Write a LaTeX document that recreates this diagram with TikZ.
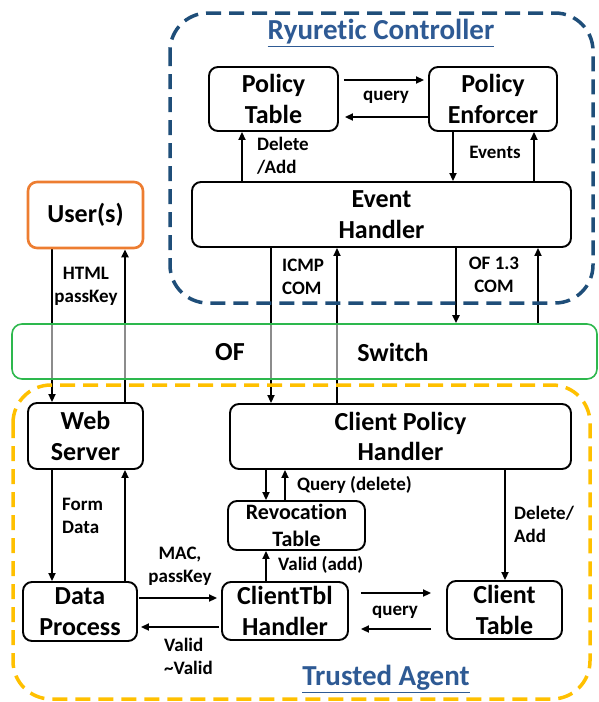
\documentclass[tikz,border=0pt]{standalone}
\usepackage{fontspec}
\setmainfont{Carlito}[Ligatures={NoCommon}]
\usetikzlibrary{arrows.meta,backgrounds}
\definecolor{ctrlblue}{HTML}{1F4E79}
\definecolor{titleblue}{HTML}{2E5A94}
\definecolor{useror}{HTML}{ED7D31}
\definecolor{swgreen}{HTML}{2DB84D}
\definecolor{agentgold}{HTML}{FFC000}

\begin{document}
\begin{tikzpicture}[x=1pt, y=-1pt]
	\tikzset{box/.style={draw, rounded corners=9pt, line width=1.9pt, align=center, inner sep=0pt,
			font=\fontsize{26}{30.5}\selectfont\bfseries},
		lbl/.style={inner sep=0pt, font=\fontsize{19}{23}\selectfont\bfseries},
		arr/.style={line width=1.9pt, -{Triangle[length=8pt,width=7pt]}},
		zone/.style={dash pattern=on 15pt off 8pt, line width=3.5pt, rounded corners=38pt},
		ttl/.style={titleblue, font=\fontsize{29}{32}\selectfont\bfseries}};
	\useasboundingbox (0,0) rectangle (598,702);

	% the two dashed zones
	\draw[zone, ctrlblue] (170,13) rectangle (593,303);
	\draw[zone, agentgold] (13,385) rectangle (590,699);
	\node[ttl] (ctrl) at (381,33) {\underline{Ryuretic Controller}};
	\node[ttl] (agent) at (386,679) {\underline{Trusted Agent}};

	% boxes
	\foreach \n/\x/\y/\w/\h/\c/\t in {pt/273.5/99/129/64/black/{Policy\\Table},
		pe/493/99/128/64/black/{Policy\\Enforcer}, eh/381.5/214.5/379/65/black/{Event\\Handler},
		web/85.5/436/115/66/black/{Web\\Server},
		dp/80/611.5/114/59/black/{Data\\Process}, cth/285/611/126/58/black/{ClientTbl\\Handler},
		cph/400.5/436.5/341/65/black/{Client Policy\\Handler}, ctab/504.5/610/115/58/black/{Client\\Table}}{
		\node[box, draw=\c, minimum width=\w pt, minimum height=\h pt] (\n) at (\x,\y) {\t};
	}
	\node[box, draw=useror, line width=2.6pt, minimum width=115pt, minimum height=66pt] (user) at (85.5,215) {User(s)};
	\node[box, font=\fontsize{22}{27}\selectfont\bfseries, minimum width=137pt, minimum height=49pt] (rev) at (296.5,525.5) {Revocation\\Table};

	% switch
	\node[draw=swgreen, line width=1.6pt, rounded corners=10pt, fill=white, fill opacity=0.55,
		minimum width=585pt, minimum height=55pt] (sw) at (304.5,351.5) {};
	\node[font=\fontsize{26}{30}\selectfont\bfseries] (swof) at (230,352) {OF};
	\node[font=\fontsize{26}{30}\selectfont\bfseries] (swname) at (393,352) {Switch};

	% connectors
	\begin{scope}[on background layer]
		\foreach \x/\a/\b in {242/eh.north/pt.south, 453/pe.south/eh.north, 534/eh.north/pe.south,
			271/eh.south/cph.north, 337/cph.north/eh.south, 456/eh.south/sw.north, 538/sw.north/eh.south,
			52/user.south/web.north, 125/web.north/user.south, 52/web.south/dp.north, 125/dp.north/web.south,
			266/cph.south/rev.north, 285/rev.north/cph.south, 266/cth.north/rev.south, 505/cph.south/ctab.north}{
			\draw[arr] (\a -| \x,0) -- (\b -| \x,0);
		}
		\foreach \y/\a/\b/\s/\e in {80/pt.east/pe.west/5/4, 117/pe.west/pt.east/0/6,
			598/dp.east/cth.west/1/4, 627/cth.west/dp.east/2/3,
			593/cth.east/ctab.west/12/15, 629/ctab.west/cth.east/15/12}{
			\draw[arr, shorten <=\s pt, shorten >=\e pt] (\a |- 0,\y) -- (\b |- 0,\y);
		}
	\end{scope}

	% connector labels
	\node[lbl] (q1) at (386,97) {query};
	\node[lbl, align=left, anchor=west] (da1) at (257,156) {Delete\\/Add};
	\node[lbl] (ev) at (495,152) {Events};
	\node[lbl, align=left, anchor=west] (icmp) at (282,277) {ICMP\\COM};
	\node[lbl, align=center] (of13) at (494,275) {OF 1.3\\COM};
	\node[lbl, align=center] (html) at (86,286) {HTML\\passKey};
	\node[lbl, align=left, anchor=west] (form) at (62,516) {Form\\Data};
	\node[lbl, align=center] (mac) at (180,566) {MAC,\\passKey};
	\node[lbl, align=left, anchor=west] (valid) at (164,656) {Valid\\\textasciitilde Valid};
	\node[lbl, anchor=west] (qd) at (297,485) {Query (delete)};
	\node[lbl, anchor=west] (va) at (278,565) {Valid (add)};
	\node[lbl, align=left, anchor=west] (da2) at (514,524) {Delete/\\Add};
	\node[lbl] (q2) at (395,612) {query};
\end{tikzpicture}
\end{document}
